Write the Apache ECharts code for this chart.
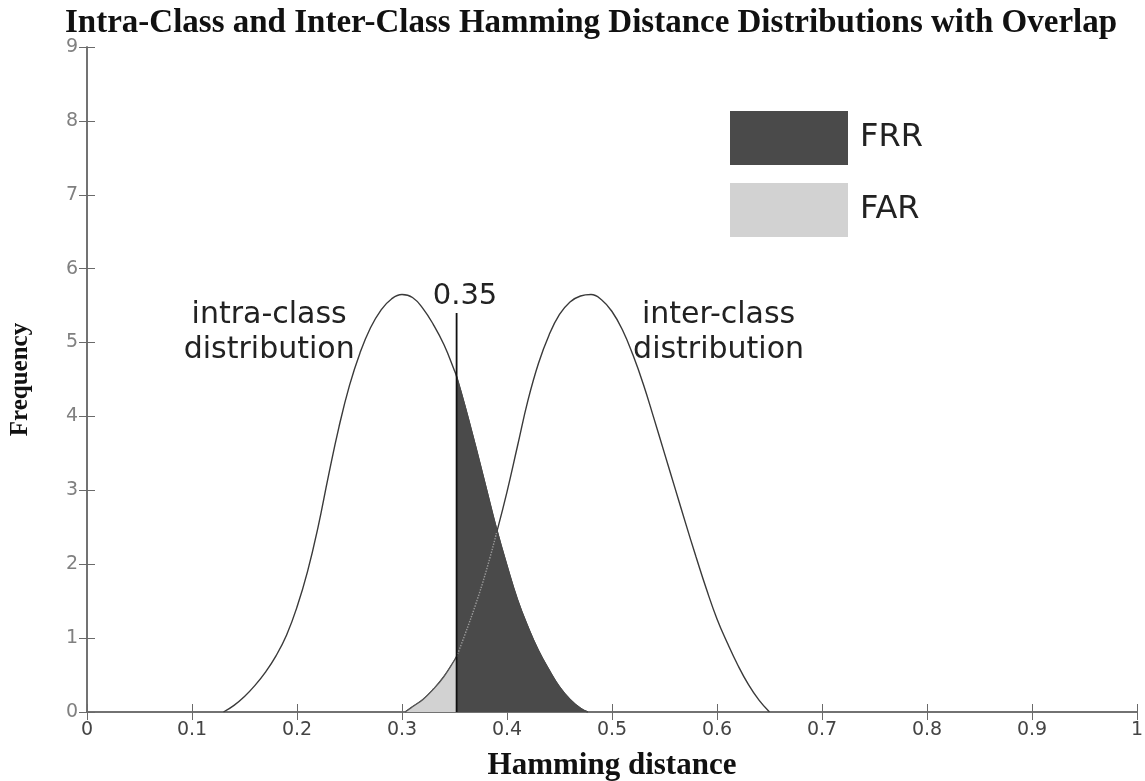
<!DOCTYPE html>
<html><head><meta charset="utf-8">
<script src="https://cdn.jsdelivr.net/npm/echarts/dist/echarts.min.js"></script>
<style>html,body{margin:0;padding:0;background:#fff}#c{width:1145px;height:781px}</style>
</head><body><div id="c"></div>
<script>
// Intra-class distribution
const intraX = [0.13, 0.14, 0.15, 0.16, 0.17, 0.18, 0.19, 0.20, 0.21, 0.22, 0.23, 0.24, 0.25, 0.26, 0.27, 0.28, 0.29, 0.30, 0.31, 0.32, 0.33, 0.34, 0.35, 0.352, 0.36, 0.37, 0.38, 0.39, 0.40, 0.41, 0.42, 0.43, 0.44, 0.45, 0.46, 0.47, 0.477];
const intraY = [0.00, 0.09, 0.21, 0.36, 0.54, 0.76, 1.04, 1.42, 1.90, 2.50, 3.20, 3.86, 4.42, 4.86, 5.20, 5.44, 5.59, 5.65, 5.61, 5.46, 5.24, 4.97, 4.62, 4.54, 4.14, 3.60, 3.04, 2.48, 1.98, 1.52, 1.15, 0.83, 0.57, 0.34, 0.17, 0.05, 0.00];
// Inter-class distribution
const interX = [0.303, 0.31, 0.32, 0.33, 0.34, 0.35, 0.352, 0.36, 0.37, 0.38, 0.39, 0.40, 0.41, 0.42, 0.43, 0.44, 0.45, 0.46, 0.47, 0.48, 0.49, 0.50, 0.51, 0.52, 0.53, 0.54, 0.55, 0.56, 0.57, 0.58, 0.59, 0.60, 0.61, 0.62, 0.63, 0.64, 0.65];
const interY = [0.00, 0.07, 0.17, 0.31, 0.48, 0.70, 0.75, 1.05, 1.45, 1.90, 2.42, 2.98, 3.60, 4.22, 4.72, 5.10, 5.38, 5.55, 5.63, 5.65, 5.58, 5.42, 5.17, 4.83, 4.43, 3.97, 3.50, 3.03, 2.56, 2.10, 1.66, 1.26, 0.93, 0.63, 0.37, 0.16, 0.00];
const threshold = 0.352;
const thresholdTop = 5.4;
const crossX = 0.39;
const xTicks = ['0','0.1','0.2','0.3','0.4','0.5','0.6','0.7','0.8','0.9','1'];

const intra = intraX.map((x, i) => [x, intraY[i]]);
const inter = interX.map((x, i) => [x, interY[i]]);
const frr = intra.filter(p => p[0] >= threshold);
const far = inter.filter(p => p[0] <= threshold);
const interHidden = inter.filter(p => p[0] >= threshold && p[0] <= crossX);

const sans = 'DejaVu Sans';
const serif = 'Liberation Serif';
const axisColor = '#6a6a6a';
const SM = 0.45;

const chart = echarts.init(document.getElementById('c'));
const option = {
  animation: false,
  backgroundColor: '#fff',
  title: {
    text: 'Intra-Class and Inter-Class Hamming Distance Distributions with Overlap',
    left: 60, top: 2,
    textStyle: {fontFamily: serif, fontWeight: 'bold', fontSize: 33, color: '#111'}
  },
  grid: {left: 87, right: 8, top: 47, bottom: 69, containLabel: false, outerBoundsMode: 'none'},
  legend: {
    orient: 'vertical', left: 725, top: 106,
    itemWidth: 118, itemHeight: 54, itemGap: 18,
    textStyle: {fontFamily: sans, fontSize: 32, color: '#222', padding: [0, 0, 0, 7]},
    data: [
      {name: 'FRR', icon: 'rect', itemStyle: {color: '#4a4a4a', borderWidth: 0}},
      {name: 'FAR', icon: 'rect', itemStyle: {color: '#d2d2d2', borderWidth: 0}}
    ],
    selectedMode: false
  },
  xAxis: [{
    type: 'value', min: 0, max: 1, interval: 0.1,
    name: 'Hamming distance', nameLocation: 'middle', nameGap: 38,
    nameTextStyle: {fontFamily: serif, fontWeight: 'bold', fontSize: 31, color: '#111'},
    axisLine: {lineStyle: {color: axisColor, width: 1.5}},
    axisTick: {inside: true, length: 8, lineStyle: {color: axisColor}},
    axisLabel: {fontFamily: sans, fontSize: 19, color: '#444', margin: 9,
      formatter: (v) => xTicks[Math.round(v * 10)]},
    splitLine: {show: false}
  }, {
    type: 'value', min: 0, max: 1, interval: 0.1, position: 'top',
    axisLine: {show: true, lineStyle: {color: axisColor, width: 1.5}},
    axisTick: {show: true, inside: true, length: 8, lineStyle: {color: axisColor}},
    axisLabel: {show: false}, splitLine: {show: false}
  }],
  yAxis: [{
    type: 'value', min: 0, max: 9, interval: 1,
    name: 'Frequency', nameLocation: 'middle', nameGap: 54, nameRotate: 90,
    nameTextStyle: {fontFamily: serif, fontWeight: 'bold', fontSize: 25, color: '#111'},
    axisLine: {show: true, lineStyle: {color: axisColor, width: 1.5}},
    axisTick: {show: true, inside: true, length: 8, lineStyle: {color: axisColor}},
    axisLabel: {fontFamily: sans, fontSize: 19, color: '#808080', margin: 9},
    splitLine: {show: false}
  }, {
    type: 'value', min: 0, max: 9, interval: 1, position: 'right',
    axisLine: {show: true, lineStyle: {color: axisColor, width: 1.5}},
    axisTick: {show: true, inside: true, length: 8, lineStyle: {color: axisColor}},
    axisLabel: {show: false}, splitLine: {show: false}
  }],
  series: [
    {name: 'intra-class', type: 'line', data: intra, smooth: SM, showSymbol: false, z: 2,
      lineStyle: {color: '#3a3a3a', width: 1.4}},
    {name: 'inter-class', type: 'line', data: inter, smooth: SM, showSymbol: false, z: 2,
      lineStyle: {color: '#3a3a3a', width: 1.4}},
    {name: 'FAR', type: 'line', data: far, smooth: SM, showSymbol: false, z: 3,
      itemStyle: {color: '#d2d2d2'},
      lineStyle: {color: '#555', width: 1.2}, areaStyle: {color: '#d2d2d2', opacity: 1}},
    {name: 'FRR', type: 'line', data: frr, smooth: SM, showSymbol: false, z: 4,
      itemStyle: {color: '#4a4a4a'},
      lineStyle: {color: '#4a4a4a', width: 1.2}, areaStyle: {color: '#4a4a4a', opacity: 1}},
    {name: 'hidden', type: 'line', data: interHidden, smooth: SM, showSymbol: false, z: 5,
      lineStyle: {color: '#9a9a9a', width: 1.4, type: 'dotted'}},
    {name: 'threshold', type: 'line', data: [[threshold, 0], [threshold, thresholdTop]], showSymbol: false, z: 6,
      lineStyle: {color: '#111', width: 1.8}}
  ]
};
chart.setOption(option);

function px(p) { return chart.convertToPixel({xAxisIndex: 0, yAxisIndex: 0}, p); }
const intraLbl = px([0.1735, 5.13]);
const interLbl = px([0.6015, 5.13]);
const thrLbl = px([0.360, 5.62]);
const txt = (pos, text, size) => ({
  type: 'text', x: pos[0], y: pos[1], z: 100,
  style: {text: text, fill: '#222', font: size + 'px "' + sans + '"',
    align: 'center', verticalAlign: 'middle', lineHeight: 35}
});
chart.setOption({graphic: [
  txt(intraLbl, 'intra-class\ndistribution', 30),
  txt(interLbl, 'inter-class\ndistribution', 30),
  txt(thrLbl, '0.35', 29)
]});
</script>
</body></html>
